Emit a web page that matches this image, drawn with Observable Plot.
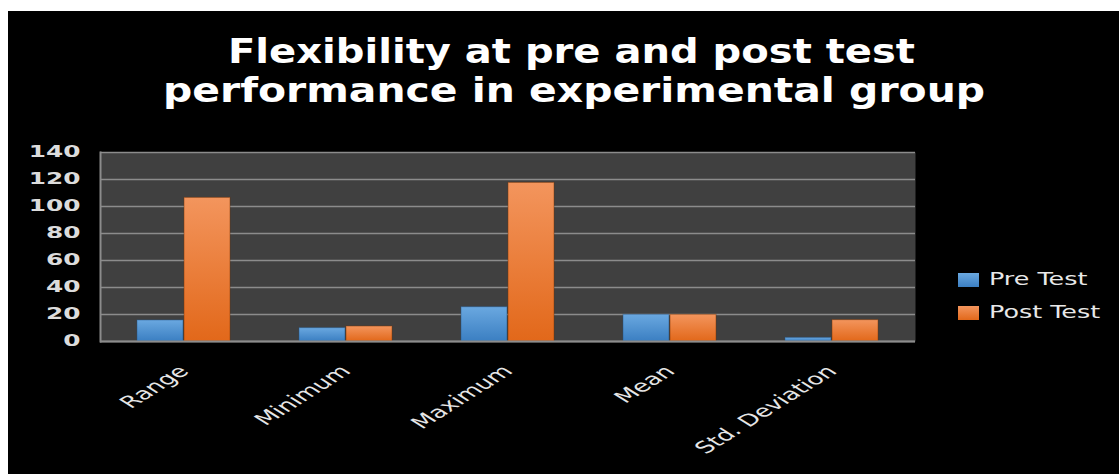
<!DOCTYPE html>
<html>
<head>
<meta charset="utf-8">
<script src="https://cdn.jsdelivr.net/npm/d3@7"></script>
<script src="https://cdn.jsdelivr.net/npm/@observablehq/plot@0.6"></script>
<style>
  html, body { margin: 0; padding: 0; background: #ffffff; width: 1119px; height: 474px; overflow: hidden; }
  #chart { position: absolute; left: 8px; top: 11px; width: 1111px; height: 463px; background: #000000; }
  #title { position: absolute; left: 0; top: 0; }
  #plot { position: absolute; left: 0; top: 129px; }
  #legend { position: absolute; left: 950px; top: 255px; font-family: "DejaVu Sans", sans-serif; font-size: 17.5px; color: #e8e8e8; }
  .row { position: relative; height: 33px; }
  .sw { position: absolute; left: 0; top: 7px; width: 21px; height: 14px; }
  .lab { position: absolute; left: 31px; top: 3px; white-space: nowrap; transform: scaleX(1.45); transform-origin: 0 50%; }
</style>
</head>
<body>
<div id="chart">
  <svg id="title" width="1111" height="129"></svg>
  <div id="plot"></div>
  <div id="legend"></div>
</div>
<script>
// ---- data ----
const titleLines = ["Flexibility at pre and post test", "performance in experimental group"];
const categories = ["Range", "Minimum", "Maximum", "Mean", "Std. Deviation"];
const series = ["Pre Test", "Post Test"];
const preTest = [15.6, 9.9, 25.4, 19.8, 2.7];
const postTest = [106.4, 11.1, 117.5, 19.8, 15.8];
const yTicks = [0, 20, 40, 60, 80, 100, 120, 140];

// ---- styles ----
const seriesColors = { "Pre Test": ["#6aa8e0", "#3b7fc2"], "Post Test": ["#f3955d", "#e2681a"] };
const W = 1111, H = 334, ML = 92, MR = 204, MT = 12, MB = 133;
const padInner = 0.423, padOuter = 0.212;

const rows = [];
categories.forEach((c, i) => {
  rows.push({ category: c, series: "Pre Test", value: preTest[i] });
  rows.push({ category: c, series: "Post Test", value: postTest[i] });
});

const step = (W - ML - MR) / (categories.length - padInner + 2 * padOuter);
const half = step * (1 - padInner) / 2;

// ---- title ----
const tsvg = d3.select("#title");
const titleLayout = [{ cx: 563.5, y: 52, len: 687 }, { cx: 566, y: 91, len: 822 }];
titleLines.forEach((t, i) => {
  tsvg.append("text")
    .attr("x", titleLayout[i].cx).attr("y", titleLayout[i].y)
    .attr("text-anchor", "middle")
    .attr("textLength", titleLayout[i].len)
    .attr("lengthAdjust", "spacingAndGlyphs")
    .attr("font-family", "'DejaVu Sans', sans-serif")
    .attr("font-weight", "bold")
    .attr("font-size", 33)
    .attr("fill", "#ffffff")
    .text(t);
});

// ---- plot ----
const chart = Plot.plot({
  width: W, height: H,
  marginLeft: ML, marginRight: MR, marginTop: MT, marginBottom: MB,
  style: { background: "transparent", fontFamily: "'DejaVu Sans', sans-serif" },
  x: { type: "band", domain: categories, paddingInner: padInner, paddingOuter: padOuter, label: null },
  y: { domain: [0, 140], label: null },
  marks: [
    Plot.frame({ fill: "#404040", stroke: null }),
    Plot.gridY(yTicks, { stroke: "#8c8c8c", strokeOpacity: 1, strokeWidth: 1.6 }),
    Plot.barY(rows.filter(d => d.series === "Pre Test"), {
      x: "category", y: "value", insetRight: half, insetLeft: 0,
      fill: "url(#gradPre)", stroke: "#24507e", strokeOpacity: 0.45, strokeWidth: 1
    }),
    Plot.barY(rows.filter(d => d.series === "Post Test"), {
      x: "category", y: "value", insetLeft: half, insetRight: 0,
      fill: "url(#gradPost)", stroke: "#7a3200", strokeOpacity: 0.45, strokeWidth: 1
    }),
    Plot.ruleY([0], { stroke: "#8c8c8c", strokeWidth: 2 }),
    Plot.frame({ anchor: "left", stroke: "#8c8c8c", strokeWidth: 2 }),
    Plot.axisY(yTicks, { tickSize: 0, tickPadding: 20, fontSize: 15.5, fill: "#dcdcdc", fontWeight: "bold" }),
    Plot.axisX({ tickSize: 0, tickPadding: 27, tickRotate: -45, fontSize: 16.5, fill: "#e6e6e6", dx: 0 })
  ]
});
document.getElementById("plot").appendChild(chart);

const svg = d3.select(chart);
const defs = svg.insert("defs", ":first-child");
[["gradPre", "Pre Test"], ["gradPost", "Post Test"]].forEach(([id, s]) => {
  const g = defs.append("linearGradient").attr("id", id).attr("x1", 0).attr("y1", 0).attr("x2", 0).attr("y2", 1);
  g.append("stop").attr("offset", "0%").attr("stop-color", seriesColors[s][0]);
  g.append("stop").attr("offset", "100%").attr("stop-color", seriesColors[s][1]);
});

// horizontal stretch of tick labels, as in the reference
function stretch(sel, f) {
  svg.selectAll(sel).each(function () {
    const t = this.getAttribute("transform");
    if (t && /translate\(/.test(t)) {
      this.setAttribute("transform", t.replace(/(translate\([^)]*\))/, `$1 scale(${f},1)`));
    } else {
      const x = this.getAttribute("x") || 0, y = this.getAttribute("y") || 0;
      this.removeAttribute("x");
      this.setAttribute("transform", `translate(${x},${y}) scale(${f},1)` + (t ? " " + t : ""));
    }
  });
}
stretch('g[aria-label="y-axis tick label"] text', 1.6);
stretch('g[aria-label="x-axis tick label"] text', 1.6);

// ---- legend ----
const legend = d3.select("#legend");
series.forEach(s => {
  const r = legend.append("div").attr("class", "row");
  r.append("div").attr("class", "sw").style("background", `linear-gradient(${seriesColors[s][0]}, ${seriesColors[s][1]})`);
  r.append("div").attr("class", "lab").text(s);
});
</script>
</body>
</html>
